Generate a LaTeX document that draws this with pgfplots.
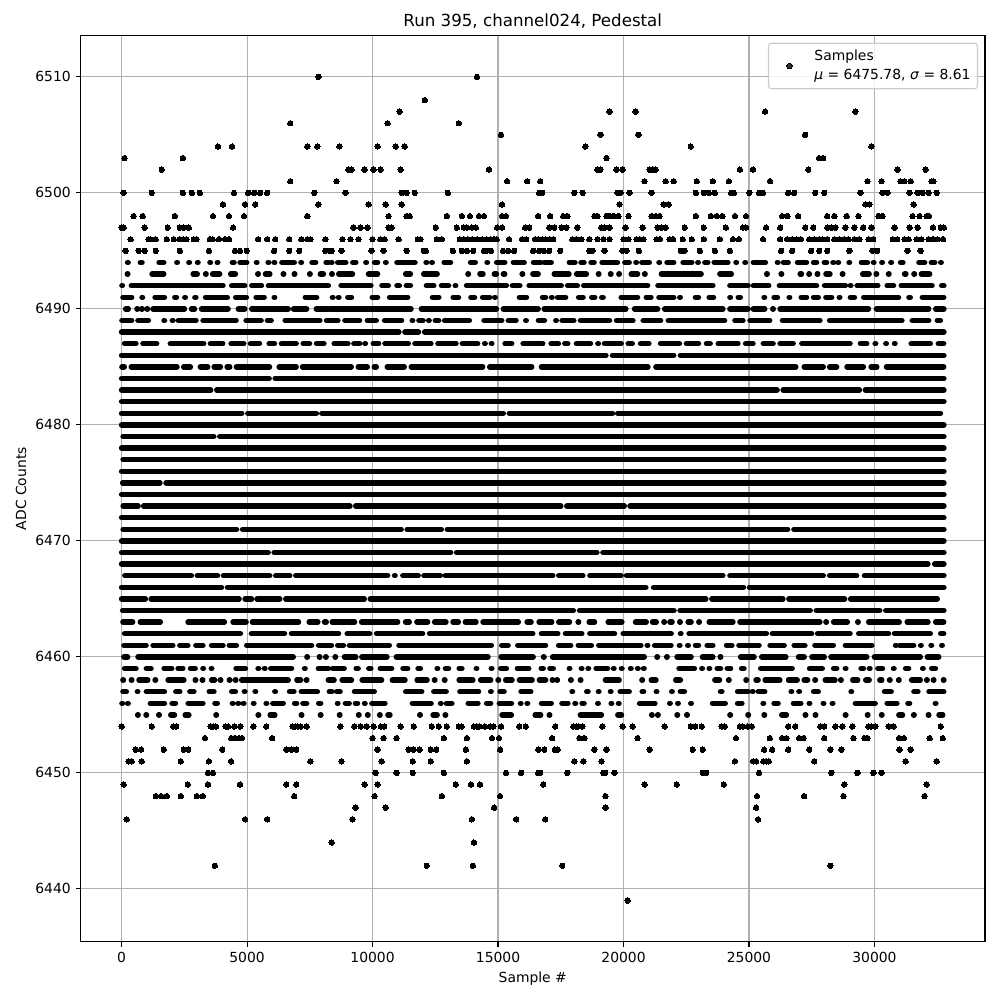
\documentclass[border=0pt]{standalone}
\usepackage{fontspec}
\setmainfont{DejaVu Sans}
\usepackage{pgfplots}
\pgfplotsset{compat=1.18}
\definecolor{gridgray}{HTML}{B0B0B0}
\definecolor{legendedge}{HTML}{CCCCCC}
\pgfplotsset{run/.style={black,line width=3.95bp,line cap=round,forget plot,unbounded coords=jump,no markers}}
\begin{document}
\begin{tikzpicture}
\path[use as bounding box] (-57.96bp,-41.98bp) rectangle (662.04bp,678.02bp);
\begin{axis}[
  scale only axis,width=651.24bp,height=652.32bp,
  xmin=-1638,xmax=34405,ymin=6435.45,ymax=6513.55,
  xtick={0,5000,10000,15000,20000,25000,30000},
  ytick={6440,6450,6460,6470,6480,6490,6500,6510},
  tick pos=left,tick align=outside,major tick length=3.5bp,
  tick style={black,line width=0.8bp},
  axis line style={line width=0.8bp},
  grid=major,grid style={color=gridgray,line width=0.8bp},
  tick label style={font=\fontsize{10bp}{12bp}\selectfont},
  /pgf/number format/assume math mode=true,
  /pgf/number format/1000 sep={},
  scaled ticks=false,
  xticklabel style={yshift=-0.5bp},
  title={Run 395, channel024, Pedestal},
  every axis title shift=0pt,
  title style={at={(axis description cs:0.5,1.0155)},anchor=center,font=\fontsize{12bp}{14bp}\selectfont},
  xlabel={Sample \#},
  xlabel style={at={(axis description cs:0.5,-0.0405)},anchor=center,font=\fontsize{10bp}{12bp}\selectfont},
  ylabel={ADC Counts},
  ylabel style={at={(axis description cs:-0.0658,0.5)},anchor=center,rotate=0,font=\fontsize{10bp}{12bp}\selectfont},
  legend style={at={(0.9923,0.9923)},anchor=north east,draw=legendedge,fill=white,fill opacity=0.8,text opacity=1,rounded corners=2bp,line width=0.8bp,inner sep=3bp,font=\fontsize{10bp}{12bp}\selectfont},
  legend cell align=left,
  legend image code/.code={\path (-11.8bp,0bp) (15.5bp,0bp);\draw[#1] plot coordinates {(0bp,0bp)};},
]
% isolated samples, read row by row
\addplot[only marks,mark=*,mark size=1.95bp,mark options={black,line width=0pt},black] coordinates {
(7840,6510)(14160,6510)(12080,6508)
(11080,6507)(19440,6507)(20480,6507)(25640,6507)(29240,6507)
(6720,6506)(10600,6506)(13440,6506)
(15120,6505)(19080,6505)(20600,6505)(27240,6505)
(3840,6504)(4400,6504)(7400,6504)(7800,6504)(8680,6504)(10200,6504)(10920,6504)(11280,6504)(18480,6504)(22680,6504)(29880,6504)
(120,6503)(2440,6503)(19320,6503)(27800,6503)(27960,6503)
(1600,6502)(9040,6502)(9160,6502)(9680,6502)(10040,6502)(10320,6502)(11120,6502)(14640,6502)(18960,6502)(19080,6502)(19720,6502)(19960,6502)(21040,6502)(21160,6502)(21280,6502)(24640,6502)(25160,6502)(27360,6502)(30920,6502)(32040,6502)
(6720,6501)(8560,6501)(15360,6501)(16160,6501)(16680,6501)(20840,6501)(21680,6501)(22000,6501)(22920,6501)(23560,6501)(24200,6501)(25840,6501)(29720,6501)(30280,6501)(31040,6501)(31200,6501)(31440,6501)(32280,6501)(32346,6501)
(80,6500)(1200,6500)(2440,6500)(2800,6500)(3120,6500)(4480,6500)(5040,6500)(5280,6500)(5520,6500)(5800,6500)(7680,6500)(8920,6500)(11160,6500)(11360,6500)(11680,6500)(13000,6500)(16640,6500)(16760,6500)(18040,6500)(18373,6500)(19760,6500)(19880,6500)(20240,6500)(21120,6500)(22880,6500)(23200,6500)(23400,6500)(23640,6500)(24292,6500)(24400,6500)(25013,6500)(25400,6500)(25560,6500)(26560,6500)(26800,6500)(27640,6500)(28000,6500)(29440,6500)(30320,6500)(30520,6500)(31400,6500)(31720,6500)(31920,6500)(32160,6500)(32480,6500)
(4040,6499)(4920,6499)(5320,6499)(7840,6499)(9840,6499)(10520,6499)(11160,6499)(15160,6499)(19840,6499)(21600,6499)(21800,6499)(29640,6499)(29800,6499)(31560,6499)
(480,6498)(840,6498)(2120,6498)(3640,6498)(4280,6498)(4880,6498)(7400,6498)(10640,6498)(11360,6498)(11480,6498)(12960,6498)(13560,6498)(13880,6498)(14240,6498)(14440,6498)(15160,6498)(15320,6498)(16600,6498)(17080,6498)(17600,6498)(17760,6498)(18840,6498)(18960,6498)(19320,6498)(19440,6498)(19600,6498)(19800,6498)(20200,6498)(21120,6498)(21280,6498)(21440,6498)(22880,6498)(23480,6498)(23720,6498)(23940,6498)(24440,6498)(24880,6498)(26320,6498)(26533,6498)(26960,6498)(28120,6498)(28400,6498)(28893,6498)(29360,6498)(30160,6498)(30320,6498)(31520,6498)(31800,6498)(32080,6498)(32173,6498)
(0,6497)(80,6497)(920,6497)(1840,6497)(2320,6497)(2480,6497)(2680,6497)(4440,6497)(9240,6497)(9520,6497)(9800,6497)(10640,6497)(10760,6497)(12520,6497)(13360,6497)(13640,6497)(13760,6497)(13960,6497)(14120,6497)(14960,6497)(15160,6497)(16080,6497)(16240,6497)(17040,6497)(17240,6497)(17533,6497)(17720,6497)(18160,6497)(19120,6497)(19240,6497)(19440,6497)(20080,6497)(20760,6497)(21360,6497)(21520,6497)(21680,6497)(22440,6497)(23200,6497)(24080,6497)(24760,6497)(24880,6497)(25680,6497)(26240,6497)(27240,6497)(27560,6497)(28120,6497)(28280,6497)(28440,6497)(28840,6497)(29200,6497)(29547,6497)(29880,6497)(30800,6497)(31400,6497)(31720,6497)(32333,6497)(32640,6497)(32767,6497)
(360,6496)(1080,6496)(1160,6496)(1360,6496)(1800,6496)(2080,6496)(2320,6496)(2453,6496)(2587,6496)(2880,6496)(2987,6496)(3520,6496)(3627,6496)(3880,6496)(4120,6496)(4280,6496)(5440,6496)(5800,6496)(6120,6496)(6680,6496)(7160,6496)(7400,6496)(7520,6496)(8120,6496)(8800,6496)(9120,6496)(9440,6496)(10000,6496)(10307,6496)(10480,6496)(11040,6496)(11800,6496)(11907,6496)(12560,6496)(12760,6496)(13480,6496)(13640,6496)(13800,6496)(13973,6496)(14173,6496)(14373,6496)(14547,6496)(14707,6496)(14840,6496)(14947,6496)(15440,6496)(15960,6496)(16120,6496)(16480,6496)(16600,6496)(16760,6496)(16894,6496)(17067,6496)(17200,6496)(17960,6496)(18120,6496)(18320,6496)(18640,6496)(18960,6496)(19200,6496)(19440,6496)(20000,6496)(20200,6496)(20520,6496)(20640,6496)(20800,6496)(21320,6496)(21453,6496)(21840,6496)(21973,6496)(22360,6496)(22720,6496)(23200,6496)(23840,6496)(24360,6496)(24600,6496)(25560,6496)(26240,6496)(26520,6496)(26720,6496)(26907,6496)(27067,6496)(27400,6496)(27600,6496)(27800,6496)(27933,6496)(28120,6496)(28400,6496)(28600,6496)(28800,6496)(28960,6496)(29200,6496)(29400,6496)(29760,6496)(29947,6496)(30733,6496)(30907,6496)(31200,6496)(31360,6496)(31680,6496)(31867,6496)(32160,6496)(32333,6496)(32507,6496)(32733,6496)
(160,6495)(680,6495)(920,6495)(1360,6495)(2320,6495)(3480,6495)(4520,6495)(4720,6495)(4987,6495)(6080,6495)(6680,6495)(7080,6495)(8120,6495)(8280,6495)(8373,6495)(8760,6495)(9960,6495)(10440,6495)(11360,6495)(12040,6495)(12120,6495)(13200,6495)(13560,6495)(13760,6495)(14013,6495)(14440,6495)(14533,6495)(14720,6495)(15200,6495)(15400,6495)(15640,6495)(16400,6495)(16640,6495)(16827,6495)(17040,6495)(17480,6495)(18640,6495)(18760,6495)(19240,6495)(19960,6495)(20120,6495)(20613,6495)(22280,6495)(22427,6495)(23040,6495)(23640,6495)(24240,6495)(26280,6495)(26720,6495)(27480,6495)(27800,6495)(28120,6495)(29000,6495)(29920,6495)(30107,6495)(31320,6495)(31840,6495)
(0,6454)(1200,6454)(2053,6454)(2173,6454)(3546,6454)(3653,6454)(3760,6454)(4146,6454)(4240,6454)(4493,6454)(4733,6454)(5253,6454)(5760,6454)(6812,6454)(6918,6454)(7025,6454)(7132,6454)(7372,6454)(8720,6454)(9280,6454)(9533,6454)(9773,6454)(10040,6454)(10333,6454)(10466,6454)(11120,6454)(11640,6454)(12360,6454)(12640,6454)(12960,6454)(13440,6454)(13546,6454)(14040,6454)(14146,6454)(14253,6454)(14480,6454)(14680,6454)(14813,6454)(15120,6454)(15840,6454)(16106,6454)(17280,6454)(18000,6454)(18107,6454)(18200,6454)(18360,6454)(19160,6454)(19960,6454)(20360,6454)(21640,6454)(22680,6454)(22853,6454)(23120,6454)(23906,6454)(24040,6454)(24640,6454)(24746,6454)(24960,6454)(25107,6454)(26560,6454)(26840,6454)(27840,6454)(28000,6454)(28440,6454)(28720,6454)(29120,6454)(29760,6454)(29867,6454)(30040,6454)(30560,6454)(30760,6454)(32640,6454)
(3320,6453)(4372,6453)(4506,6453)(4680,6453)(4800,6453)(5998,6453)(10000,6453)(10440,6453)(10960,6453)(12840,6453)(13760,6453)(14760,6453)(15040,6453)(17160,6453)(18240,6453)(18440,6453)(20560,6453)(24480,6453)(25827,6453)(26320,6453)(26494,6453)(27000,6453)(27174,6453)(28000,6453)(29160,6453)(29600,6453)(29720,6453)(30987,6453)(31173,6453)(32200,6453)(32720,6453)
(560,6452)(773,6452)(1680,6452)(2480,6452)(2653,6452)(4012,6452)(6558,6452)(6758,6452)(6958,6452)(10200,6452)(11440,6452)(11640,6452)(11880,6452)(12320,6452)(12533,6452)(13720,6452)(15080,6452)(16600,6452)(16840,6452)(17267,6452)(17373,6452)(18840,6452)(19320,6452)(21040,6452)(22760,6452)(23160,6452)(25600,6452)(25920,6452)(26560,6452)(27400,6452)(28240,6452)(28680,6452)(31000,6452)(31440,6452)
(280,6451)(400,6451)(800,6451)(2360,6451)(3480,6451)(4360,6451)(7520,6451)(8760,6451)(10360,6451)(11600,6451)(12320,6451)(13760,6451)(18040,6451)(18400,6451)(19120,6451)(24440,6451)(25161,6451)(25281,6451)(25574,6451)(25681,6451)(25788,6451)(27600,6451)(31240,6451)(32480,6451)
(3440,6450)(3640,6450)(10120,6450)(10960,6450)(11600,6450)(12840,6450)(15320,6450)(15920,6450)(16600,6450)(16680,6450)(17760,6450)(19200,6450)(19267,6450)(19640,6450)(23160,6450)(23293,6450)(25400,6450)(28280,6450)(29320,6450)(29960,6450)(30280,6450)
(80,6449)(2640,6449)(3440,6449)(4720,6449)(6560,6449)(6960,6449)(9680,6449)(10200,6449)(13320,6449)(13920,6449)(14280,6449)(16800,6449)(20840,6449)(22120,6449)(24000,6449)(28800,6449)(32080,6449)
(1360,6448)(1573,6448)(1800,6448)(2360,6448)(3000,6448)(3240,6448)(6880,6448)(10080,6448)(12760,6448)(15080,6448)(19280,6448)(25320,6448)(27200,6448)(28760,6448)(32000,6448)
(9320,6447)(10520,6447)(14840,6447)(19280,6447)(25280,6447)
(200,6446)(4920,6446)(5800,6446)(9200,6446)(13960,6446)(15720,6446)(16880,6446)(25360,6446)
(8370,6444)(14040,6444)
(3720,6442)(12160,6442)(14000,6442)(17560,6442)(28240,6442)
(20160,6439)
};
\addlegendentry{\shortstack[l]{Samples\\[1.2bp]\textit{μ} = 6475.78, \textit{σ} = 8.61}}
% runs of samples too close together to tell apart, one table per count
\addplot[run] coordinates {(240,6494)(260,6494)(nan,nan)(747,6494)(813,6494)(nan,nan)(1493,6494)(1680,6494)(nan,nan)(2200,6494)(2220,6494)(nan,nan)(2680,6494)(2700,6494)(nan,nan)(3026,6494)(3046,6494)(nan,nan)(3520,6494)(3540,6494)(nan,nan)(3813,6494)(3833,6494)(nan,nan)(4413,6494)(4480,6494)(nan,nan)(4720,6494)(4987,6494)(nan,nan)(5373,6494)(5393,6494)(nan,nan)(5840,6494)(5860,6494)(nan,nan)(6080,6494)(6100,6494)(nan,nan)(6387,6494)(6880,6494)(nan,nan)(7146,6494)(7166,6494)(nan,nan)(7587,6494)(7733,6494)(nan,nan)(8147,6494)(8240,6494)(nan,nan)(8360,6494)(8380,6494)(nan,nan)(8613,6494)(8933,6494)(nan,nan)(9213,6494)(9333,6494)(nan,nan)(9733,6494)(9753,6494)(nan,nan)(10080,6494)(10200,6494)(nan,nan)(10520,6494)(10540,6494)(nan,nan)(10973,6494)(11693,6494)(nan,nan)(12133,6494)(12153,6494)(nan,nan)(12360,6494)(12380,6494)(nan,nan)(12853,6494)(13107,6494)(nan,nan)(13907,6494)(14093,6494)(nan,nan)(14560,6494)(14580,6494)(nan,nan)(14947,6494)(15267,6494)(nan,nan)(15613,6494)(16040,6494)(nan,nan)(16413,6494)(16700,6494)(nan,nan)(16840,6494)(17120,6494)(nan,nan)(17840,6494)(18067,6494)(nan,nan)(18307,6494)(18427,6494)(nan,nan)(18707,6494)(18827,6494)(nan,nan)(19147,6494)(19760,6494)(nan,nan)(20053,6494)(20227,6494)(nan,nan)(20493,6494)(20513,6494)(nan,nan)(20733,6494)(21027,6494)(nan,nan)(21413,6494)(21433,6494)(nan,nan)(21733,6494)(22000,6494)(nan,nan)(22373,6494)(22720,6494)(nan,nan)(22960,6494)(22980,6494)(nan,nan)(23240,6494)(23360,6494)(nan,nan)(23613,6494)(24160,6494)(nan,nan)(24480,6494)(24500,6494)(nan,nan)(24840,6494)(24860,6494)(nan,nan)(25173,6494)(25653,6494)(nan,nan)(26133,6494)(26153,6494)(nan,nan)(26373,6494)(26560,6494)(nan,nan)(26933,6494)(27293,6494)(nan,nan)(27573,6494)(27693,6494)(nan,nan)(28000,6494)(28093,6494)(nan,nan)(28347,6494)(28367,6494)(nan,nan)(28547,6494)(28567,6494)(nan,nan)(28987,6494)(29007,6494)(nan,nan)(29480,6494)(29720,6494)(nan,nan)(29960,6494)(29980,6494)(nan,nan)(30293,6494)(30313,6494)(nan,nan)(30653,6494)(30673,6494)(nan,nan)(31040,6494)(31133,6494)(nan,nan)(31773,6494)(32000,6494)(nan,nan)(32267,6494)(32400,6494)(nan,nan)(32640,6494)(32660,6494)};
\addplot[run] coordinates {(227,6493)(247,6493)(nan,nan)(1213,6493)(1680,6493)(nan,nan)(2853,6493)(3013,6493)(nan,nan)(3347,6493)(3367,6493)(nan,nan)(3626,6493)(3906,6493)(nan,nan)(4346,6493)(4533,6493)(nan,nan)(5426,6493)(5446,6493)(nan,nan)(5733,6493)(5906,6493)(nan,nan)(6440,6493)(6460,6493)(nan,nan)(6880,6493)(6900,6493)(nan,nan)(7492,6493)(7512,6493)(nan,nan)(7918,6493)(8040,6493)(nan,nan)(8373,6493)(8393,6493)(nan,nan)(8653,6493)(9200,6493)(nan,nan)(9840,6493)(10200,6493)(nan,nan)(11320,6493)(11507,6493)(nan,nan)(12040,6493)(12573,6493)(nan,nan)(13800,6493)(13820,6493)(nan,nan)(14280,6493)(14400,6493)(nan,nan)(14853,6493)(14933,6493)(nan,nan)(15213,6493)(15267,6493)(nan,nan)(15960,6493)(15980,6493)(nan,nan)(16387,6493)(16600,6493)(nan,nan)(17240,6493)(17827,6493)(nan,nan)(18133,6493)(18520,6493)(nan,nan)(19000,6493)(19020,6493)(nan,nan)(19480,6493)(19500,6493)(nan,nan)(19813,6493)(19833,6493)(nan,nan)(20307,6493)(20560,6493)(nan,nan)(20840,6493)(20860,6493)(nan,nan)(21507,6493)(23093,6493)(nan,nan)(23840,6493)(24293,6493)(nan,nan)(25707,6493)(25727,6493)(nan,nan)(26280,6493)(26300,6493)(nan,nan)(27040,6493)(27093,6493)(nan,nan)(27387,6493)(27407,6493)(nan,nan)(27720,6493)(27740,6493)(nan,nan)(28067,6493)(28227,6493)(nan,nan)(28720,6493)(28740,6493)(nan,nan)(29533,6493)(29787,6493)(nan,nan)(30067,6493)(30087,6493)(nan,nan)(30560,6493)(30580,6493)(nan,nan)(31200,6493)(31253,6493)(nan,nan)(31573,6493)(31593,6493)(nan,nan)(31867,6493)(32200,6493)};
\addplot[run] coordinates {(13,6492)(33,6492)(nan,nan)(387,6492)(4040,6492)(nan,nan)(4386,6492)(4906,6492)(nan,nan)(5186,6492)(5573,6492)(nan,nan)(5853,6492)(8238,6492)(nan,nan)(8747,6492)(9933,6492)(nan,nan)(10373,6492)(10627,6492)(nan,nan)(10973,6492)(11067,6492)(nan,nan)(11347,6492)(11507,6492)(nan,nan)(12147,6492)(12440,6492)(nan,nan)(12747,6492)(13027,6492)(nan,nan)(13293,6492)(13313,6492)(nan,nan)(13746,6492)(15333,6492)(nan,nan)(15573,6492)(15867,6492)(nan,nan)(16240,6492)(16600,6492)(nan,nan)(16667,6492)(17520,6492)(nan,nan)(17773,6492)(18160,6492)(nan,nan)(18413,6492)(20960,6492)(nan,nan)(21373,6492)(23560,6492)(nan,nan)(24240,6492)(24960,6492)(nan,nan)(25173,6492)(25787,6492)(nan,nan)(26213,6492)(27693,6492)(nan,nan)(28013,6492)(28840,6492)(nan,nan)(29040,6492)(29060,6492)(nan,nan)(29307,6492)(30133,6492)(nan,nan)(30507,6492)(30760,6492)(nan,nan)(31067,6492)(32293,6492)(nan,nan)(32680,6492)(32767,6492)};
\addplot[run] coordinates {(53,6491)(400,6491)(nan,nan)(813,6491)(833,6491)(nan,nan)(1333,6491)(1706,6491)(nan,nan)(2120,6491)(2186,6491)(nan,nan)(2520,6491)(2540,6491)(nan,nan)(2920,6491)(2960,6491)(nan,nan)(3346,6491)(4212,6491)(nan,nan)(4546,6491)(4972,6491)(nan,nan)(5359,6491)(5680,6491)(nan,nan)(6080,6491)(6100,6491)(nan,nan)(7320,6491)(7772,6491)(nan,nan)(8400,6491)(8420,6491)(nan,nan)(8640,6491)(8660,6491)(nan,nan)(9014,6491)(9160,6491)(nan,nan)(9987,6491)(10200,6491)(nan,nan)(10680,6491)(11400,6491)(nan,nan)(12387,6491)(12640,6491)(nan,nan)(13213,6491)(13426,6491)(nan,nan)(13920,6491)(14066,6491)(nan,nan)(14386,6491)(14666,6491)(nan,nan)(14866,6491)(14886,6491)(nan,nan)(15853,6491)(16133,6491)(nan,nan)(16773,6491)(16894,6491)(nan,nan)(17133,6491)(17153,6491)(nan,nan)(17373,6491)(17693,6491)(nan,nan)(18213,6491)(18386,6491)(nan,nan)(18733,6491)(18853,6491)(nan,nan)(19133,6491)(19187,6491)(nan,nan)(19907,6491)(20560,6491)(nan,nan)(20906,6491)(21093,6491)(nan,nan)(21413,6491)(22000,6491)(nan,nan)(22240,6491)(22260,6491)(nan,nan)(22866,6491)(22986,6491)(nan,nan)(23413,6491)(23586,6491)(nan,nan)(24240,6491)(24260,6491)(nan,nan)(24573,6491)(24653,6491)(nan,nan)(25600,6491)(25620,6491)(nan,nan)(26000,6491)(26133,6491)(nan,nan)(26600,6491)(26620,6491)(nan,nan)(27080,6491)(27293,6491)(nan,nan)(27573,6491)(27760,6491)(nan,nan)(28067,6491)(28293,6491)(nan,nan)(28600,6491)(28620,6491)(nan,nan)(29040,6491)(29200,6491)(nan,nan)(29573,6491)(30960,6491)(nan,nan)(31373,6491)(31427,6491)(nan,nan)(31907,6491)(32760,6491)};
\addplot[run] coordinates {(160,6490)(267,6490)(nan,nan)(613,6490)(633,6490)(nan,nan)(800,6490)(820,6490)(nan,nan)(1013,6490)(1033,6490)(nan,nan)(1253,6490)(2506,6490)(nan,nan)(2786,6490)(2906,6490)(nan,nan)(3186,6490)(4240,6490)(nan,nan)(4653,6490)(4906,6490)(nan,nan)(5186,6490)(6638,6490)(nan,nan)(6851,6490)(7372,6490)(nan,nan)(7758,6490)(8238,6490)(nan,nan)(8307,6490)(11533,6490)(nan,nan)(11946,6490)(14933,6490)(nan,nan)(15213,6490)(16600,6490)(nan,nan)(16840,6490)(20093,6490)(nan,nan)(20440,6490)(21360,6490)(nan,nan)(21640,6490)(23960,6490)(nan,nan)(24240,6490)(24960,6490)(nan,nan)(25173,6490)(25627,6490)(nan,nan)(25947,6490)(25967,6490)(nan,nan)(26240,6490)(29760,6490)(nan,nan)(30080,6490)(32160,6490)(nan,nan)(32440,6490)(32767,6490)};
\addplot[run] coordinates {(13,6489)(399,6489)(nan,nan)(652,6489)(1064,6489)(nan,nan)(1690,6489)(1710,6489)(nan,nan)(2022,6489)(2042,6489)(nan,nan)(2261,6489)(2966,6489)(nan,nan)(3245,6489)(4562,6489)(nan,nan)(4961,6489)(5559,6489)(nan,nan)(5812,6489)(5958,6489)(nan,nan)(6517,6489)(7900,6489)(nan,nan)(8166,6489)(8618,6489)(nan,nan)(8898,6489)(9483,6489)(nan,nan)(9789,6489)(10148,6489)(nan,nan)(10480,6489)(11156,6489)(nan,nan)(11580,6489)(11600,6489)(nan,nan)(11848,6489)(12008,6489)(nan,nan)(12234,6489)(12254,6489)(nan,nan)(12500,6489)(12633,6489)(nan,nan)(12872,6489)(13856,6489)(nan,nan)(14441,6489)(15146,6489)(nan,nan)(15412,6489)(15718,6489)(nan,nan)(16104,6489)(16124,6489)(nan,nan)(16609,6489)(16849,6489)(nan,nan)(17301,6489)(17321,6489)(nan,nan)(17554,6489)(18019,6489)(nan,nan)(18285,6489)(19442,6489)(nan,nan)(19722,6489)(20373,6489)(nan,nan)(20786,6489)(21477,6489)(nan,nan)(21783,6489)(24027,6489)(nan,nan)(24440,6489)(24760,6489)(nan,nan)(25040,6489)(25826,6489)(nan,nan)(26333,6489)(27826,6489)(nan,nan)(28213,6489)(31092,6489)(nan,nan)(31505,6489)(32158,6489)(nan,nan)(32505,6489)(32625,6489)};
\addplot[run] coordinates {(0,6488)(11050,6488)(nan,nan)(11290,6488)(11830,6488)(nan,nan)(12075,6488)(32767,6488)};
\addplot[run] coordinates {(120,6487)(572,6487)(nan,nan)(851,6487)(1397,6487)(nan,nan)(1942,6487)(3272,6487)(nan,nan)(3538,6487)(4030,6487)(nan,nan)(4362,6487)(4868,6487)(nan,nan)(5134,6487)(5493,6487)(nan,nan)(5879,6487)(6091,6487)(nan,nan)(6371,6487)(6956,6487)(nan,nan)(7235,6487)(7488,6487)(nan,nan)(7767,6487)(8060,6487)(nan,nan)(8472,6487)(9017,6487)(nan,nan)(9257,6487)(9483,6487)(nan,nan)(9696,6487)(9716,6487)(nan,nan)(10028,6487)(10241,6487)(nan,nan)(10494,6487)(11422,6487)(nan,nan)(11688,6487)(12327,6487)(nan,nan)(12606,6487)(13324,6487)(nan,nan)(13577,6487)(14189,6487)(nan,nan)(14468,6487)(14488,6487)(nan,nan)(14734,6487)(14754,6487)(nan,nan)(15279,6487)(15545,6487)(nan,nan)(15998,6487)(16782,6487)(nan,nan)(17115,6487)(17407,6487)(nan,nan)(17660,6487)(17780,6487)(nan,nan)(18126,6487)(18684,6487)(nan,nan)(18977,6487)(18997,6487)(nan,nan)(19243,6487)(19908,6487)(nan,nan)(20187,6487)(20347,6487)(nan,nan)(20679,6487)(21012,6487)(nan,nan)(21477,6487)(22227,6487)(nan,nan)(22507,6487)(22987,6487)(nan,nan)(23307,6487)(23454,6487)(nan,nan)(23774,6487)(24560,6487)(nan,nan)(24867,6487)(25160,6487)(nan,nan)(25573,6487)(25960,6487)(nan,nan)(26240,6487)(26760,6487)(nan,nan)(27106,6487)(29026,6487)(nan,nan)(29439,6487)(29692,6487)(nan,nan)(30027,6487)(30047,6487)(nan,nan)(30452,6487)(30472,6487)(nan,nan)(30799,6487)(30819,6487)(nan,nan)(31465,6487)(32225,6487)(nan,nan)(32545,6487)(32758,6487)};
\addplot[run] coordinates {(0,6486)(19300,6486)(nan,nan)(19560,6486)(22000,6486)(nan,nan)(22270,6486)(32767,6486)};
\addplot[run] coordinates {(13,6485)(106,6485)(nan,nan)(386,6485)(2208,6485)(nan,nan)(2474,6485)(2740,6485)(nan,nan)(3139,6485)(3431,6485)(nan,nan)(3684,6485)(3937,6485)(nan,nan)(4203,6485)(4309,6485)(nan,nan)(4575,6485)(5892,6485)(nan,nan)(6278,6485)(6956,6485)(nan,nan)(7209,6485)(9150,6485)(nan,nan)(9430,6485)(9789,6485)(nan,nan)(10068,6485)(10148,6485)(nan,nan)(10587,6485)(11263,6485)(nan,nan)(11542,6485)(14388,6485)(nan,nan)(14668,6485)(16343,6485)(nan,nan)(16729,6485)(20972,6485)(nan,nan)(21291,6485)(26866,6485)(nan,nan)(27199,6485)(27959,6485)(nan,nan)(28213,6485)(28493,6485)(nan,nan)(28906,6485)(29559,6485)(nan,nan)(29866,6485)(30092,6485)(nan,nan)(30479,6485)(32758,6485)};
\addplot[run] coordinates {(0,6484)(5880,6484)(nan,nan)(6120,6484)(32767,6484)};
\addplot[run] coordinates {(0,6483)(3550,6483)(nan,nan)(3790,6483)(26120,6483)(nan,nan)(26360,6483)(29400,6483)(nan,nan)(29640,6483)(32767,6483)};
\addplot[run] coordinates {(0,6482)(32767,6482)};
\addplot[run] coordinates {(0,6481)(4790,6481)(nan,nan)(5030,6481)(7760,6481)(nan,nan)(7980,6481)(15210,6481)(nan,nan)(15450,6481)(19560,6481)(nan,nan)(19770,6481)(32630,6481)};
\addplot[run] coordinates {(0,6480)(32767,6480)};
\addplot[run] coordinates {(60,6479)(3670,6479)(nan,nan)(3910,6479)(32767,6479)};
\addplot[run] coordinates {(0,6478)(32767,6478)};
\addplot[run] coordinates {(60,6477)(32767,6477)};
\addplot[run] coordinates {(0,6476)(32767,6476)};
\addplot[run] coordinates {(40,6475)(1530,6475)(nan,nan)(1770,6475)(32767,6475)};
\addplot[run] coordinates {(0,6474)(32767,6474)};
\addplot[run] coordinates {(60,6473)(660,6473)(nan,nan)(880,6473)(9100,6473)(nan,nan)(9330,6473)(17500,6473)(nan,nan)(17740,6473)(20030,6473)(nan,nan)(20260,6473)(32767,6473)};
\addplot[run] coordinates {(0,6472)(32767,6472)};
\addplot[run] coordinates {(60,6471)(4580,6471)(nan,nan)(4820,6471)(11140,6471)(nan,nan)(11380,6471)(12740,6471)(nan,nan)(12980,6471)(26540,6471)(nan,nan)(26790,6471)(32767,6471)};
\addplot[run] coordinates {(0,6470)(32767,6470)};
\addplot[run] coordinates {(0,6469)(5840,6469)(nan,nan)(6080,6469)(13110,6469)(nan,nan)(13350,6469)(18940,6469)(nan,nan)(19180,6469)(32767,6469)};
\addplot[run] coordinates {(0,6468)(32130,6468)(nan,nan)(32400,6468)(32767,6468)};
\addplot[run] coordinates {(130,6467)(2780,6467)(nan,nan)(3020,6467)(3820,6467)(nan,nan)(4060,6467)(5900,6467)(nan,nan)(6140,6467)(6700,6467)(nan,nan)(6940,6467)(10600,6467)(nan,nan)(10877,6467)(10897,6467)(nan,nan)(11206,6467)(11820,6467)(nan,nan)(12047,6467)(12700,6467)(nan,nan)(12900,6467)(17180,6467)(nan,nan)(17420,6467)(18380,6467)(nan,nan)(18660,6467)(19900,6467)(nan,nan)(20120,6467)(23960,6467)(nan,nan)(24240,6467)(27960,6467)(nan,nan)(28213,6467)(29290,6467)(nan,nan)(29600,6467)(32767,6467)};
\addplot[run] coordinates {(0,6466)(3980,6466)(nan,nan)(4220,6466)(20890,6466)(nan,nan)(21200,6466)(24780,6466)(nan,nan)(25020,6466)(32767,6466)};
\addplot[run] coordinates {(0,6465)(950,6465)(nan,nan)(1180,6465)(4680,6465)(nan,nan)(4920,6465)(5180,6465)(nan,nan)(5400,6465)(6300,6465)(nan,nan)(6540,6465)(9670,6465)(nan,nan)(9910,6465)(23280,6465)(nan,nan)(23520,6465)(26350,6465)(nan,nan)(26590,6465)(28810,6465)(nan,nan)(29050,6465)(32500,6465)};
\addplot[run] coordinates {(40,6464)(18000,6464)(nan,nan)(18250,6464)(22013,6464)(nan,nan)(22253,6464)(27440,6464)(nan,nan)(27680,6464)(30210,6464)(nan,nan)(30450,6464)(32767,6464)};
\addplot[run] coordinates {(53,6463)(439,6463)(nan,nan)(745,6463)(1543,6463)(nan,nan)(2647,6463)(4096,6463)(nan,nan)(4442,6463)(4961,6463)(nan,nan)(5214,6463)(7049,6463)(nan,nan)(7475,6463)(7820,6463)(nan,nan)(8086,6463)(8153,6463)(nan,nan)(8392,6463)(9283,6463)(nan,nan)(9563,6463)(11000,6463)(nan,nan)(11316,6463)(11462,6463)(nan,nan)(11768,6463)(12194,6463)(nan,nan)(12473,6463)(12925,6463)(nan,nan)(13205,6463)(13417,6463)(nan,nan)(13697,6463)(14122,6463)(nan,nan)(14402,6463)(15811,6463)(nan,nan)(16157,6463)(16317,6463)(nan,nan)(16636,6463)(17141,6463)(nan,nan)(17421,6463)(17846,6463)(nan,nan)(18192,6463)(18212,6463)(nan,nan)(18631,6463)(18844,6463)(nan,nan)(19389,6463)(19934,6463)(nan,nan)(20480,6463)(20905,6463)(nan,nan)(21158,6463)(21304,6463)(nan,nan)(21610,6463)(21630,6463)(nan,nan)(21850,6463)(21935,6463)(nan,nan)(22240,6463)(22260,6463)(nan,nan)(22574,6463)(22694,6463)(nan,nan)(23000,6463)(23020,6463)(nan,nan)(23414,6463)(24360,6463)(nan,nan)(24640,6463)(27826,6463)(nan,nan)(28066,6463)(28086,6463)(nan,nan)(28373,6463)(28919,6463)(nan,nan)(29332,6463)(29352,6463)(nan,nan)(29772,6463)(30985,6463)(nan,nan)(31305,6463)(32132,6463)(nan,nan)(32438,6463)(32758,6463)};
\addplot[run] coordinates {(120,6462)(4735,6462)(nan,nan)(5174,6462)(6490,6462)(nan,nan)(6770,6462)(8645,6462)(nan,nan)(8991,6462)(9882,6462)(nan,nan)(10161,6462)(11994,6462)(nan,nan)(12274,6462)(16383,6462)(nan,nan)(16729,6462)(17381,6462)(nan,nan)(17687,6462)(18338,6462)(nan,nan)(18658,6462)(19642,6462)(nan,nan)(19988,6462)(21900,6462)(nan,nan)(22270,6462)(22290,6462)(nan,nan)(22614,6462)(25693,6462)(nan,nan)(25933,6462)(27493,6462)(nan,nan)(27733,6462)(29026,6462)(nan,nan)(29372,6462)(30559,6462)(nan,nan)(30799,6462)(32225,6462)(nan,nan)(32638,6462)(32758,6462)};
\addplot[run] coordinates {(93,6461)(973,6461)(nan,nan)(1253,6461)(2040,6461)(nan,nan)(2320,6461)(2640,6461)(nan,nan)(2960,6461)(3240,6461)(nan,nan)(3586,6461)(4040,6461)(nan,nan)(4293,6461)(4573,6461)(nan,nan)(4986,6461)(7572,6461)(nan,nan)(7852,6461)(8360,6461)(nan,nan)(8614,6461)(8840,6461)(nan,nan)(9080,6461)(10667,6461)(nan,nan)(11053,6461)(14733,6461)(nan,nan)(15147,6461)(15400,6461)(nan,nan)(15786,6461)(16894,6461)(nan,nan)(17414,6461)(17894,6461)(nan,nan)(18200,6461)(18720,6461)(nan,nan)(19014,6461)(20693,6461)(nan,nan)(20946,6461)(20966,6461)(nan,nan)(21240,6461)(21893,6461)(nan,nan)(22226,6461)(22246,6461)(nan,nan)(22560,6461)(22580,6461)(nan,nan)(22866,6461)(22986,6461)(nan,nan)(23333,6461)(23560,6461)(nan,nan)(24105,6461)(24319,6461)(nan,nan)(24600,6461)(25401,6461)(nan,nan)(25841,6461)(26401,6461)(nan,nan)(26800,6461)(27227,6461)(nan,nan)(27627,6461)(28360,6461)(nan,nan)(28840,6461)(29893,6461)(nan,nan)(30840,6461)(30860,6461)(nan,nan)(31000,6461)(31560,6461)(nan,nan)(31840,6461)(31860,6461)(nan,nan)(32253,6461)(32273,6461)(nan,nan)(32680,6461)(32700,6461)};
\addplot[run] coordinates {(93,6460)(240,6460)(nan,nan)(653,6460)(6838,6460)(nan,nan)(7385,6460)(7405,6460)(nan,nan)(7878,6460)(7898,6460)(nan,nan)(8131,6460)(8151,6460)(nan,nan)(8507,6460)(8527,6460)(nan,nan)(8880,6460)(9333,6460)(nan,nan)(9573,6460)(10573,6460)(nan,nan)(10946,6460)(14600,6460)(nan,nan)(15120,6460)(16400,6460)(nan,nan)(16814,6460)(16834,6460)(nan,nan)(17174,6460)(20826,6460)(nan,nan)(21333,6460)(21353,6460)(nan,nan)(21720,6460)(21740,6460)(nan,nan)(22133,6460)(22693,6460)(nan,nan)(23146,6460)(23560,6460)(nan,nan)(23853,6460)(23873,6460)(nan,nan)(24666,6460)(25201,6460)(nan,nan)(25508,6460)(26467,6460)(nan,nan)(26974,6460)(27200,6460)(nan,nan)(27507,6460)(28000,6460)(nan,nan)(28267,6460)(29693,6460)(nan,nan)(30000,6460)(31826,6460)(nan,nan)(32106,6460)(32560,6460)};
\addplot[run] coordinates {(120,6459)(573,6459)(nan,nan)(987,6459)(1173,6459)(nan,nan)(1693,6459)(2000,6459)(nan,nan)(2253,6459)(2440,6459)(nan,nan)(2746,6459)(2933,6459)(nan,nan)(3240,6459)(3260,6459)(nan,nan)(3573,6459)(3593,6459)(nan,nan)(4560,6459)(4932,6459)(nan,nan)(5440,6459)(5460,6459)(nan,nan)(5692,6459)(5712,6459)(nan,nan)(5945,6459)(6772,6459)(nan,nan)(7292,6459)(7312,6459)(nan,nan)(7838,6459)(8238,6459)(nan,nan)(8414,6459)(8867,6459)(nan,nan)(9347,6459)(9427,6459)(nan,nan)(9853,6459)(9933,6459)(nan,nan)(10307,6459)(10760,6459)(nan,nan)(11213,6459)(11400,6459)(nan,nan)(11813,6459)(11906,6459)(nan,nan)(12573,6459)(12593,6459)(nan,nan)(12906,6459)(13026,6459)(nan,nan)(13452,6459)(13559,6459)(nan,nan)(14132,6459)(14152,6459)(nan,nan)(14732,6459)(14752,6459)(nan,nan)(15106,6459)(15332,6459)(nan,nan)(15772,6459)(16226,6459)(nan,nan)(16720,6459)(16800,6459)(nan,nan)(17067,6459)(17200,6459)(nan,nan)(17840,6459)(17860,6459)(nan,nan)(18320,6459)(18340,6459)(nan,nan)(18587,6459)(18607,6459)(nan,nan)(18907,6459)(19360,6459)(nan,nan)(19600,6459)(19620,6459)(nan,nan)(19920,6459)(19940,6459)(nan,nan)(20280,6459)(20300,6459)(nan,nan)(20560,6459)(20580,6459)(nan,nan)(20800,6459)(20820,6459)(nan,nan)(22213,6459)(22826,6459)(nan,nan)(23120,6459)(23140,6459)(nan,nan)(23413,6459)(23433,6459)(nan,nan)(23733,6459)(23866,6459)(nan,nan)(24133,6459)(24266,6459)(nan,nan)(24706,6459)(24800,6459)(nan,nan)(25467,6459)(26721,6459)(nan,nan)(27414,6459)(27920,6459)(nan,nan)(28374,6459)(28494,6459)(nan,nan)(28840,6459)(28860,6459)(nan,nan)(29467,6459)(29560,6459)(nan,nan)(29800,6459)(29820,6459)(nan,nan)(30133,6459)(30320,6459)(nan,nan)(30760,6459)(30780,6459)(nan,nan)(31240,6459)(31360,6459)(nan,nan)(31920,6459)(31940,6459)(nan,nan)(32280,6459)(32426,6459)};
\addplot[run] coordinates {(53,6458)(73,6458)(nan,nan)(387,6458)(407,6458)(nan,nan)(693,6458)(1040,6458)(nan,nan)(1333,6458)(1353,6458)(nan,nan)(1853,6458)(2480,6458)(nan,nan)(2933,6458)(2953,6458)(nan,nan)(3213,6458)(3233,6458)(nan,nan)(3586,6458)(3706,6458)(nan,nan)(3932,6458)(3952,6458)(nan,nan)(4293,6458)(4313,6458)(nan,nan)(4532,6458)(4552,6458)(nan,nan)(4785,6458)(6638,6458)(nan,nan)(6985,6458)(7132,6458)(nan,nan)(7360,6458)(7380,6458)(nan,nan)(8238,6458)(8467,6458)(nan,nan)(8787,6458)(9160,6458)(nan,nan)(9587,6458)(10360,6458)(nan,nan)(10787,6458)(11293,6458)(nan,nan)(11773,6458)(12173,6458)(nan,nan)(12466,6458)(12486,6458)(nan,nan)(12866,6458)(12886,6458)(nan,nan)(13452,6458)(14000,6458)(nan,nan)(14306,6458)(14706,6458)(nan,nan)(15000,6458)(15020,6458)(nan,nan)(15306,6458)(15559,6458)(nan,nan)(15852,6458)(16360,6458)(nan,nan)(16650,6458)(16894,6458)(nan,nan)(17160,6458)(17180,6458)(nan,nan)(17347,6458)(17367,6458)(nan,nan)(17893,6458)(17913,6458)(nan,nan)(18280,6458)(18300,6458)(nan,nan)(19280,6458)(19827,6458)(nan,nan)(20733,6458)(20753,6458)(nan,nan)(21106,6458)(21293,6458)(nan,nan)(22080,6458)(22266,6458)(nan,nan)(23640,6458)(23826,6458)(nan,nan)(24186,6458)(24206,6458)(nan,nan)(24880,6458)(24900,6458)(nan,nan)(25281,6458)(25361,6458)(nan,nan)(25641,6458)(26227,6458)(nan,nan)(26574,6458)(26921,6458)(nan,nan)(27200,6458)(27334,6458)(nan,nan)(27627,6458)(27647,6458)(nan,nan)(28040,6458)(28427,6458)(nan,nan)(28654,6458)(28674,6458)(nan,nan)(29133,6458)(29333,6458)(nan,nan)(29653,6458)(29787,6458)(nan,nan)(30213,6458)(30293,6458)(nan,nan)(30600,6458)(30620,6458)(nan,nan)(30960,6458)(30980,6458)(nan,nan)(31480,6458)(31826,6458)(nan,nan)(32080,6458)(32100,6458)(nan,nan)(32346,6458)(32366,6458)(nan,nan)(32747,6458)(32767,6458)};
\addplot[run] coordinates {(53,6457)(187,6457)(nan,nan)(627,6457)(647,6457)(nan,nan)(987,6457)(1707,6457)(nan,nan)(2160,6457)(2320,6457)(nan,nan)(2720,6457)(2880,6457)(nan,nan)(3493,6457)(3680,6457)(nan,nan)(4386,6457)(4532,6457)(nan,nan)(4892,6457)(4912,6457)(nan,nan)(5320,6457)(5340,6457)(nan,nan)(6106,6457)(6126,6457)(nan,nan)(6692,6457)(6865,6457)(nan,nan)(7160,6457)(7800,6457)(nan,nan)(8278,6457)(8380,6457)(nan,nan)(8574,6457)(8707,6457)(nan,nan)(9280,6457)(10067,6457)(nan,nan)(11320,6457)(11960,6457)(nan,nan)(12440,6457)(12933,6457)(nan,nan)(13480,6457)(14226,6457)(nan,nan)(14706,6457)(14726,6457)(nan,nan)(15080,6457)(15240,6457)(nan,nan)(15920,6457)(16306,6457)(nan,nan)(17947,6457)(17967,6457)(nan,nan)(18534,6457)(18587,6457)(nan,nan)(19000,6457)(19020,6457)(nan,nan)(19480,6457)(19500,6457)(nan,nan)(19867,6457)(20227,6457)(nan,nan)(20746,6457)(20800,6457)(nan,nan)(21306,6457)(21326,6457)(nan,nan)(21920,6457)(21940,6457)(nan,nan)(22266,6457)(22426,6457)(nan,nan)(23866,6457)(23920,6457)(nan,nan)(24546,6457)(24960,6457)(nan,nan)(25135,6457)(25155,6457)(nan,nan)(25374,6457)(25628,6457)(nan,nan)(26680,6457)(26700,6457)(nan,nan)(26987,6457)(27007,6457)(nan,nan)(27574,6457)(27760,6457)(nan,nan)(29067,6457)(29087,6457)(nan,nan)(30400,6457)(30667,6457)(nan,nan)(31573,6457)(31733,6457)(nan,nan)(32173,6457)(32760,6457)};
\addplot[run] coordinates {(13,6456)(33,6456)(nan,nan)(240,6456)(260,6456)(nan,nan)(1146,6456)(1706,6456)(nan,nan)(2013,6456)(2146,6456)(nan,nan)(2653,6456)(3240,6456)(nan,nan)(3720,6456)(3813,6456)(nan,nan)(4413,6456)(4433,6456)(nan,nan)(4640,6456)(4660,6456)(nan,nan)(4852,6456)(4872,6456)(nan,nan)(5253,6456)(5273,6456)(nan,nan)(5760,6456)(5780,6456)(nan,nan)(6026,6456)(6440,6456)(nan,nan)(6893,6456)(6973,6456)(nan,nan)(7226,6456)(7373,6456)(nan,nan)(7853,6456)(7933,6456)(nan,nan)(8600,6456)(8620,6456)(nan,nan)(8920,6456)(9067,6456)(nan,nan)(9320,6456)(9400,6456)(nan,nan)(9680,6456)(9700,6456)(nan,nan)(9973,6456)(10493,6456)(nan,nan)(11586,6456)(12333,6456)(nan,nan)(12706,6456)(12726,6456)(nan,nan)(12946,6456)(13160,6456)(nan,nan)(13812,6456)(14200,6456)(nan,nan)(14546,6456)(14706,6456)(nan,nan)(15053,6456)(15533,6456)(nan,nan)(15892,6456)(15912,6456)(nan,nan)(16160,6456)(16180,6456)(nan,nan)(16733,6456)(17120,6456)(nan,nan)(17547,6456)(17787,6456)(nan,nan)(18067,6456)(18087,6456)(nan,nan)(18347,6456)(18427,6456)(nan,nan)(18973,6456)(18993,6456)(nan,nan)(19507,6456)(19527,6456)(nan,nan)(19800,6456)(19820,6456)(nan,nan)(20640,6456)(21253,6456)(nan,nan)(21840,6456)(21860,6456)(nan,nan)(22160,6456)(22180,6456)(nan,nan)(22680,6456)(22700,6456)(nan,nan)(23546,6456)(24053,6456)(nan,nan)(24546,6456)(24720,6456)(nan,nan)(25561,6456)(25581,6456)(nan,nan)(26000,6456)(26160,6456)(nan,nan)(26773,6456)(27067,6456)(nan,nan)(27400,6456)(27420,6456)(nan,nan)(27960,6456)(27980,6456)(nan,nan)(28320,6456)(28340,6456)(nan,nan)(29240,6456)(30027,6456)(nan,nan)(30507,6456)(30893,6456)(nan,nan)(31333,6456)(31400,6456)(nan,nan)(32426,6456)(32446,6456)};
\addplot[run] coordinates {(640,6455)(660,6455)(nan,nan)(973,6455)(993,6455)(nan,nan)(1480,6455)(1500,6455)(nan,nan)(1960,6455)(2106,6455)(nan,nan)(2533,6455)(2680,6455)(nan,nan)(3760,6455)(3780,6455)(nan,nan)(5440,6455)(5460,6455)(nan,nan)(5920,6455)(6106,6455)(nan,nan)(7160,6455)(7180,6455)(nan,nan)(7920,6455)(7940,6455)(nan,nan)(8680,6455)(8700,6455)(nan,nan)(9440,6455)(9460,6455)(nan,nan)(9800,6455)(9820,6455)(nan,nan)(10280,6455)(10300,6455)(nan,nan)(10613,6455)(10693,6455)(nan,nan)(11880,6455)(11900,6455)(nan,nan)(12413,6455)(12573,6455)(nan,nan)(12893,6455)(12913,6455)(nan,nan)(15160,6455)(15533,6455)(nan,nan)(16480,6455)(16700,6455)(nan,nan)(17040,6455)(17060,6455)(nan,nan)(18280,6455)(19120,6455)(nan,nan)(19773,6455)(19920,6455)(nan,nan)(21120,6455)(21140,6455)(nan,nan)(21360,6455)(21380,6455)(nan,nan)(22133,6455)(22153,6455)(nan,nan)(22520,6455)(22540,6455)(nan,nan)(24240,6455)(24260,6455)(nan,nan)(24960,6455)(24980,6455)(nan,nan)(25600,6455)(25620,6455)(nan,nan)(26307,6455)(26494,6455)(nan,nan)(27240,6455)(27260,6455)(nan,nan)(27640,6455)(27660,6455)(nan,nan)(28840,6455)(28860,6455)(nan,nan)(29720,6455)(29740,6455)(nan,nan)(30280,6455)(30300,6455)(nan,nan)(30973,6455)(31120,6455)(nan,nan)(31560,6455)(31580,6455)(nan,nan)(32146,6455)(32166,6455)(nan,nan)(32573,6455)(32720,6455)};
\end{axis}
\end{tikzpicture}
\end{document}
